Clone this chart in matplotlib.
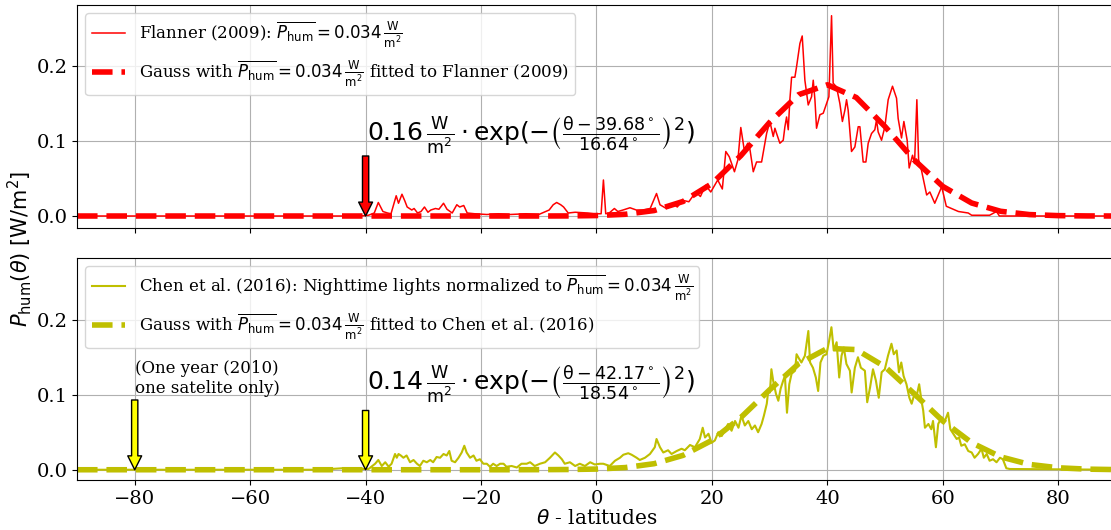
import matplotlib
matplotlib.use("Agg")
import matplotlib.pyplot as plt
import numpy as np

plt.rcParams['font.family'] = 'DejaVu Serif'
plt.rcParams['mathtext.fontset'] = 'dejavusans'

# Flanner (2009) zonal profile
flanner_lat = [-90, -41, -39.5, -38.5, -37.8, -37.0, -36.2, -35.6, -34.7, -34.3, -33.7, -33.2,
               -32.8, -32.0, -31.6, -31.0, -30.4, -29.8, -29.2, -28.7, -27.9, -27.3, -26.5,
               -25.9, -25.0, -24.2, -23.7, -23.0, -22.4, -21.1, -19.0, -17.0, -15.0, -12.2,
               -10.0, -8.2, -7.5, -6.9, -6.2, -5.7, -4.9, -3.7, -1.5, -0.5, 0.8, 1.2, 1.6,
               2.2, 3.1, 3.7, 4.6, 5.8, 6.9, 8.0, 9.3, 10.4, 11.0, 12.1, 13.3, 14.0, 14.9,
               16.0, 17.2, 18.0, 18.9, 19.8, 21.0, 21.8, 22.4, 23.0, 23.9, 24.5, 25.0, 25.6,
               26.2, 26.6, 27.16, 27.73, 28.6, 29.47, 30.04, 30.62, 30.91, 31.2, 31.77, 32.35,
               32.64, 32.93, 33.22, 33.5, 33.8, 34.37, 34.66, 35.24, 35.64, 36.1, 36.68, 37.26,
               37.55, 37.84, 38.12, 38.7, 39.28, 39.86, 40.26, 40.72, 41.0, 41.58, 42.16, 42.6,
               43.03, 43.32, 43.6, 44.18, 44.76, 45.34, 45.63, 46.2, 46.67, 47.07, 47.65, 48.22,
               48.51, 48.8, 49.38, 49.96, 50.53, 51.28, 51.98, 52.26, 52.84, 53.25, 53.82, 54.17,
               54.75, 55.1, 55.5, 55.8, 56.3, 57.2, 57.75, 58.6, 59.8, 60.6, 61.5, 62.7, 64.4,
               65.0, 68.1, 69.3, 69.8, 90]
flanner_val = [0, 0, 0.001, 0.004, 0.018, 0.006, 0.004, 0.003, 0.027, 0.017, 0.029, 0.020,
               0.012, 0.008, 0.010, 0.004, 0.006, 0.012, 0.005, 0.008, 0.010, 0.009, 0.017,
               0.009, 0.004, 0.015, 0.012, 0.014, 0.004, 0.003, 0.002, 0.003, 0.002, 0.003,
               0.002, 0.008, 0.015, 0.018, 0.015, 0.012, 0.004, 0.005, 0.004, 0.003, 0.003, 0.048, 0.003,
               0.004, 0.010, 0.006, 0.008, 0.011, 0.008, 0.008, 0.010, 0.030, 0.015, 0.010, 0.016, 0.012, 0.021,
               0.019, 0.032, 0.026, 0.041, 0.032, 0.048, 0.036, 0.086, 0.079, 0.059, 0.075, 0.118, 0.088,
               0.097, 0.088, 0.059, 0.072, 0.072, 0.110, 0.126, 0.106, 0.117, 0.110, 0.097, 0.101,
               0.119, 0.132, 0.115, 0.155, 0.185, 0.185, 0.199, 0.230, 0.240, 0.181, 0.148, 0.159,
               0.181, 0.155, 0.117, 0.135, 0.137, 0.150, 0.159, 0.267, 0.177, 0.172, 0.150, 0.126,
               0.141, 0.155, 0.141, 0.086, 0.092, 0.119, 0.119, 0.072, 0.072, 0.097, 0.110, 0.115,
               0.128, 0.112, 0.101, 0.119, 0.155, 0.173, 0.157, 0.130, 0.104, 0.126, 0.101, 0.064,
               0.081, 0.070, 0.155, 0.075, 0.061, 0.028, 0.032, 0.017, 0.039, 0.013, 0.010, 0.006, 0.004,
               0.001, 0.001, 0.006, 0.0, 0]

# Chen et al. (2016) nighttime lights profile
chen_lat = [-90, -47, -46, -44, -42, -40.5, -39.5, -38.35, -37.8, -37.2, -36.6, -36.0, -35.5, -34.9,
            -34.6, -34.3, -33.9, -33.45, -32.9, -32.3, -31.7, -31.1, -30.6, -30.0, -29.4, -28.8,
            -28.3, -27.7, -27.1, -26.5, -25.95, -25.5, -25.1, -24.5, -23.9, -23.35, -22.9, -22.5,
            -21.9, -21.3, -20.8, -20.2, -19.6, -19.0, -18.45, -17.9, -17.3, -16.7, -16.1, -15.6,
            -14.7, -13.8, -13.0, -12.1, -11.5, -10.7, -9.8, -8.9, -8.06, -7.2, -6.6, -6.0, -5.5,
            -4.6, -3.7, -2.9, -2.0, -1.1, -0.3, 0.6, 1.18, 2.3, 3.2, 4.07, 4.65, 5.5, 6.09, 6.95,
            7.5, 8.4, 9.26, 10.1, 10.4, 11.0, 11.57, 12.4, 13.0, 13.9, 14.74, 15.3, 16.2, 17.05,
            17.9, 18.4, 18.8, 19.4, 19.94, 20.5, 21.1, 21.7, 22.3, 22.8, 23.4, 24.0, 24.6, 25.1,
            25.7, 26.3, 26.9, 27.45, 28.0, 28.6, 29.0, 29.5, 29.75, 30.04, 30.3, 30.6, 31.1, 31.5,
            31.9, 32.35, 32.64, 33.0, 33.4, 33.8, 34.4, 34.66, 35.1, 35.5, 36.1, 36.7, 37.0, 37.5,
            38.0, 38.4, 38.8, 39.3, 39.85, 40.3, 40.7, 41.1, 41.6, 42.05, 42.45, 42.85, 43.3, 43.9,
            44.2, 44.76, 45.3, 45.8, 46.5, 46.9, 47.4, 47.9, 48.4, 48.9, 49.4, 49.95, 50.5, 51.1,
            51.5, 52.0, 52.4, 52.8, 53.2, 53.7, 54.2, 54.6, 55.15, 55.4, 55.9, 56.3, 56.6, 56.9,
            57.5, 58.0, 58.3, 58.8, 59.2, 59.8, 60.35, 60.9, 61.3, 61.8, 62.4, 62.8, 63.2, 63.8,
            64.4, 65.0, 65.5, 66.1, 66.7, 67.1, 67.6, 68.1, 68.7, 69.3, 69.9, 70.4, 71.0, 71.6, 90]
chen_val = [0, 0, 0.001, 0.002, 0.001, 0.001, 0.001, 0.008, 0.013, 0.005, 0.010, 0.004, 0.008, 0.021,
            0.016, 0.021, 0.019, 0.016, 0.019, 0.010, 0.013, 0.008, 0.005, 0.012, 0.010, 0.013,
            0.010, 0.017, 0.016, 0.021, 0.019, 0.025, 0.012, 0.010, 0.016, 0.023, 0.032, 0.023,
            0.016, 0.019, 0.012, 0.014, 0.008, 0.008, 0.004, 0.008, 0.005, 0.008, 0.008, 0.004,
            0.005, 0.003, 0.008, 0.008, 0.010, 0.005, 0.008, 0.010, 0.016, 0.023, 0.019, 0.014, 0.008,
            0.010, 0.005, 0.008, 0.005, 0.010, 0.007, 0.008, 0.008, 0.005, 0.012, 0.016, 0.020, 0.022, 0.020, 0.016,
            0.013, 0.016, 0.021, 0.030, 0.041, 0.030, 0.023, 0.026, 0.021, 0.025, 0.028, 0.026, 0.033, 0.030,
            0.041, 0.056, 0.043, 0.048, 0.036, 0.039, 0.050, 0.045, 0.054, 0.061, 0.052, 0.065, 0.056, 0.072,
            0.059, 0.065, 0.054, 0.059, 0.050, 0.061, 0.072, 0.088, 0.105, 0.103, 0.134, 0.119, 0.101, 0.092,
            0.108, 0.119, 0.125, 0.076, 0.114, 0.128, 0.132, 0.154, 0.148, 0.143, 0.152, 0.185, 0.143, 0.136,
            0.123, 0.105, 0.143, 0.152, 0.154, 0.172, 0.190, 0.159, 0.170, 0.123, 0.152, 0.163, 0.141, 0.132,
            0.103, 0.136, 0.150, 0.136, 0.132, 0.090, 0.110, 0.134, 0.119, 0.096, 0.130, 0.134, 0.152, 0.168,
            0.154, 0.159, 0.130, 0.143, 0.125, 0.114, 0.096, 0.088, 0.103, 0.096, 0.114, 0.092, 0.079, 0.056,
            0.061, 0.054, 0.065, 0.030, 0.061, 0.070, 0.065, 0.076, 0.054, 0.048, 0.041, 0.043, 0.032, 0.034,
            0.025, 0.023, 0.016, 0.021, 0.028, 0.016, 0.021, 0.012, 0.014, 0.010, 0.016, 0.014, 0.002, 0.001, 0]

# fitted Gauss curves, sampled every 5 deg from the figure
gauss_lat = list(range(-90, 95, 5))
gauss_flanner = [0]*17 + [0.0001, 0.0006, 0.0023, 0.0073, 0.0194, 0.0432, 0.0804, 0.1248, 0.1617,
                          0.1749, 0.1580, 0.1191, 0.0750, 0.0394, 0.0173, 0.0063, 0.0019, 0.0005,
                          0.0001, 0.0]
gauss_chen = [0]*16 + [0.0001, 0.0003, 0.0009, 0.0029, 0.0081, 0.0192, 0.0392, 0.0696, 0.1066,
                       0.1412, 0.1618, 0.1602, 0.1372, 0.1016, 0.0650, 0.0360, 0.0172, 0.0071,
                       0.0026, 0.0008, 0.0002]

unit = r'\frac{\mathrm{W}}{\mathrm{m}^2}'
pbar = r'\overline{P_{\mathrm{hum}}}'

fig = plt.figure(figsize=(11.11, 5.30), dpi=100)
ax1 = fig.add_axes([0.0693, 0.5698, 0.9352, 0.4208])
ax2 = fig.add_axes([0.0693, 0.0943, 0.9352, 0.4189])

# top panel
ax1.plot(flanner_lat, flanner_val, 'r-', lw=1.1,
         label=r'Flanner (2009): $' + pbar + r' = 0.034\,' + unit + '$')
ax1.plot(gauss_lat, gauss_flanner, 'r--', lw=4,
         label=r'Gauss with $' + pbar + r' = 0.034\,' + unit + r'$ fitted to Flanner (2009)')
ax1.text(-39.7, 0.107, r'$0.16\,' + unit + r'\cdot\mathrm{exp}(-\left(\frac{\mathrm{\theta} - 39.68^\circ}{16.64^\circ}\right)^2)$',
         fontsize=18, va='center', family='DejaVu Sans')
ax1.annotate('', xy=(-40, 0.0), xytext=(-40, 0.08),
             arrowprops=dict(facecolor='red', edgecolor='black', width=4.5, headwidth=10,
                             headlength=10, shrink=0))

# bottom panel
ax2.plot(chen_lat, chen_val, 'y-', lw=1.5,
         label=r'Chen et al. (2016): Nighttime lights normalized to $' + pbar + r' = 0.034\,' + unit + '$')
ax2.plot(gauss_lat, gauss_chen, 'y--', lw=4,
         label=r'Gauss with $' + pbar + r' = 0.034\,' + unit + r'$ fitted to Chen et al. (2016)')
ax2.text(-39.7, 0.113, r'$0.14\,' + unit + r'\cdot\mathrm{exp}(-\left(\frac{\mathrm{\theta} - 42.17^\circ}{18.54^\circ}\right)^2)$',
         fontsize=18, va='center', family='DejaVu Sans')
ax2.annotate('', xy=(-80, 0.0), xytext=(-80, 0.093),
             arrowprops=dict(facecolor='yellow', edgecolor='black', width=4.5, headwidth=10,
                             headlength=10, shrink=0))
ax2.annotate('', xy=(-40, 0.0), xytext=(-40, 0.079),
             arrowprops=dict(facecolor='yellow', edgecolor='black', width=4.5, headwidth=10,
                             headlength=10, shrink=0))
ax2.text(-80, 0.097, '(One year (2010)\none satelite only)', fontsize=12, va='bottom')

for ax in (ax1, ax2):
    ax.set_xlim(-90, 90)
    ax.set_xticks(range(-80, 81, 20))
    ax.set_yticks([0, 0.1, 0.2])
    ax.set_yticklabels(['0.0', '0.1', '0.2'])
    ax.tick_params(labelsize=14)
    ax.grid(True)
    ax.legend(loc='upper left', fontsize=12)

ax1.set_ylim(-0.016, 0.2813)
ax2.set_ylim(-0.0137, 0.2823)
ax1.set_xticklabels([])

ax2.set_xlabel(r'$\theta$ - latitudes', fontsize=14.5, labelpad=1)
fig.text(0.018, 0.53, r'$P_{\mathrm{hum}}(\theta)$ [W/m$^2$]', rotation=90, fontsize=15,
         va='center', ha='center', family='DejaVu Sans')

plt.savefig('out.png', dpi=100)
